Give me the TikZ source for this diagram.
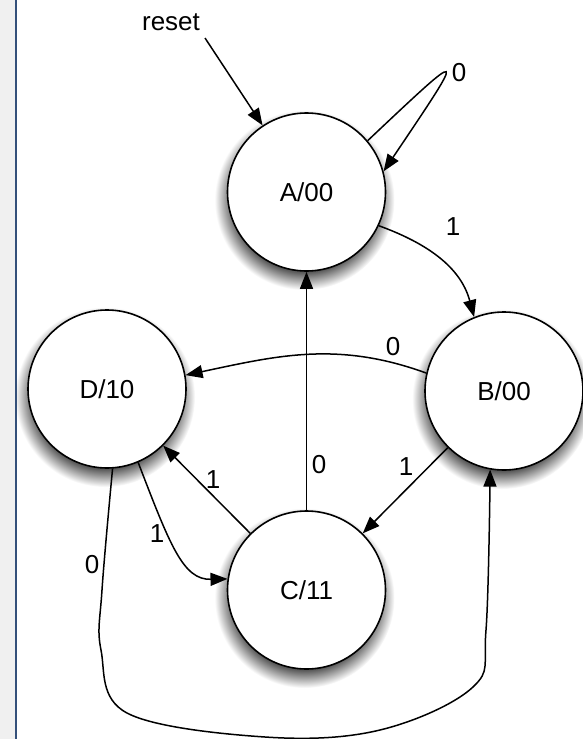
\documentclass[tikz,border=0pt]{standalone}
\usepackage{fontspec}
\setmainfont{Liberation Sans}
\usetikzlibrary{arrows.meta}
\definecolor{barblue}{RGB}{52,80,122}
\definecolor{sidegray}{RGB}{240,240,240}
\pgfdeclareradialshading{shadowring}{\pgfpoint{0bp}{0bp}}{color(0bp)=(black!65); color(20bp)=(black!65); color(25bp)=(white); color(50bp)=(white)}
\begin{document}
\begin{tikzpicture}[x=1pt,y=-1pt,
  every node/.style={font=\fontsize{26}{30}\selectfont},
  state/.style={circle,draw,line width=1.6pt,fill=white,minimum size=158pt,inner sep=0pt},
  shadowdisc/.style={shading=shadowring},
  edge/.style={line width=1.5pt,-{Triangle[length=17pt,width=13pt]}},
  lab/.style={inner sep=0pt}]
\useasboundingbox (0,0) rectangle (582,739);
\fill[white] (0,0) rectangle (582,739);

% shadows
\shade[shadowdisc] (304.5,200) circle (90);
\shade[shadowdisc] (502,399) circle (90);
\shade[shadowdisc] (105,397) circle (90);
\shade[shadowdisc] (304.5,598) circle (90);

\fill[sidegray] (0,0) rectangle (15,739);
\draw[barblue,line width=2pt] (16,0) -- (16,739);

\node[state] (A) at (306.5,192) {A/00};
\node[state] (B) at (504,391) {B/00};
\node[state] (D) at (107,389) {D/10};
\node[state] (C) at (306.5,590) {C/11};

\coordinate (R) at (205,38);
\node[lab] (lreset) at (171,22) {reset};
\draw[edge] (R) -- (A);

\draw[edge] (A.40) .. controls (468,46) and (468,46) .. (A.15);
\node[lab] (lAA) at (459,73) {0};

\draw[edge] (A.-25) to[out=-20,in=105] (B.112);
\node[lab] (lAB) at (453,227) {1};

\draw[edge] (B.167) to[out=160,in=12] (D.10);
\node[lab] (lBD) at (393,347) {0};

\draw[edge] (C) -- (A);
\node[lab] (lCA) at (319,465) {0};

\draw[edge] (B) -- (C);
\node[lab] (lBC) at (406,467) {1};

\draw[edge] (C) -- (D);
\node[lab] (lCD) at (213,480) {1};

\draw[edge] (D.-67) .. controls (170,545) and (183,580) .. (C.172);
\node[lab] (lDC) at (157,534) {1};

\draw[edge] plot[smooth,tension=0.6] coordinates {(D.-86) (102,590) (101,650) (127,713) (265,737) (380,730) (473,687) (486,630) (B.-100)};
\node[lab] (lDB) at (92,565) {0};
\end{tikzpicture}
\end{document}
